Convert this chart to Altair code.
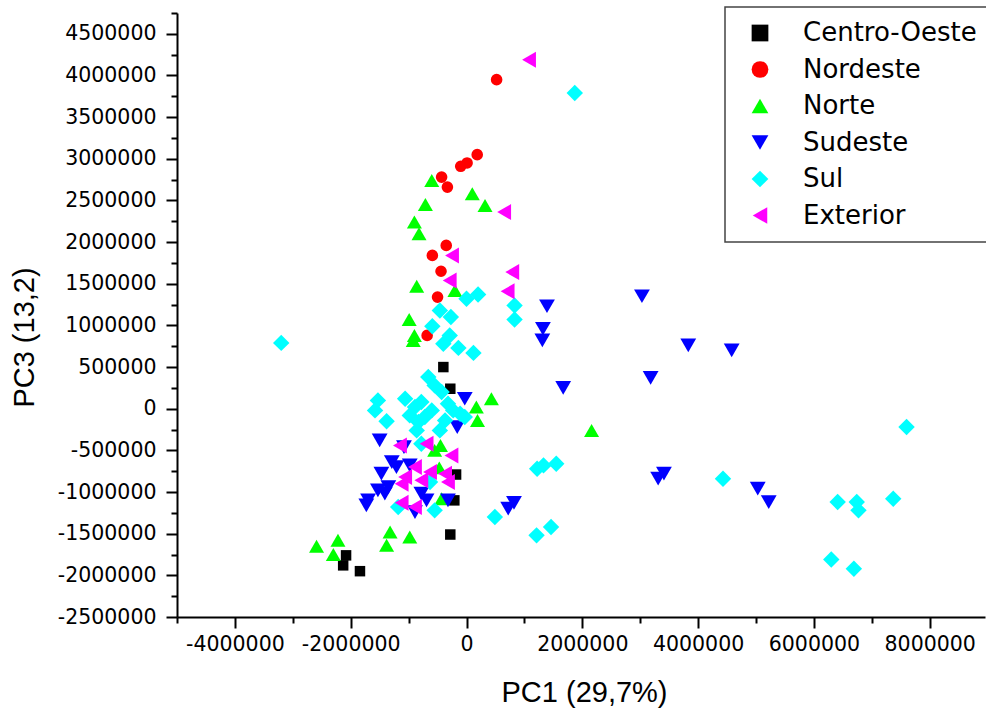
import altair as alt
import pandas as pd

regions = ["Centro-Oeste", "Nordeste", "Norte", "Sudeste", "Sul", "Exterior"]
colors = ["#000000", "#FF0000", "#00FF00", "#0000FF", "#00FFFF", "#FF00FF"]
shapes = ["square", "circle", "triangle-up", "triangle-down", "diamond", "triangle-left"]
sizes = [110, 135, 225, 250, 270, 256]

co_x = [-400000, -280000, -180000, -210000, -280000, -2080000, -2130000, -1840000]
co_y = [500000, 240000, -790000, -1100000, -1510000, -1760000, -1880000, -1950000]

ne_x = [520000, 185000, 10000, -100000, -430000, -330000, -350000, -590000, -440000, -500000, -680000]
ne_y = [3950000, 3050000, 2950000, 2910000, 2780000, 2660000, 1960000, 1840000, 1650000, 1340000, 880000]

no_x = [-600000, 100000, 320000, -710000, -900000, -820000, -860000, -200000, -990000, -900000, -920000,
        430000, 170000, 190000, -450000, -550000, -470000, -430000, -1320000, -980000, -1380000,
        -2590000, -2220000, -2300000, 2160000]
no_y = [2740000, 2580000, 2440000, 2450000, 2240000, 2100000, 1470000, 1420000, 1070000, 880000, 820000,
        120000, 20000, -140000, -440000, -500000, -710000, -1080000, -1480000, -1540000, -1640000,
        -1650000, -1580000, -1750000, -260000]

se_x = [3030000, 3830000, 4580000, 3180000, 1670000, 3310000, 3410000, 5030000, 5220000, 1390000, 1320000,
        1310000, 820000, 720000, -1500000, -30000, -160000, -1080000, -1290000, -1470000, -1210000,
        -1530000, -1350000, -1700000, -1730000, -1410000, -780000, -690000, -890000, -320000, -980000]
se_y = [1350000, 760000, 700000, 370000, 250000, -840000, -780000, -960000, -1120000, 1230000, 960000,
        820000, -1130000, -1200000, -380000, 120000, -220000, -460000, -640000, -780000, -700000,
        -980000, -940000, -1100000, -1160000, -1020000, -1020000, -1100000, -1240000, -1100000, -680000]

su_x = [1870000, -3200000, 7600000, 4430000, 6410000, 6740000, 6770000, 7370000, 6300000, 6690000,
        1550000, 1220000, 1330000, 1210000, 1460000, 490000,
        0, 200000, 830000, 830000, -460000, -270000, -590000, -290000, -400000, -140000, 120000,
        -1530000, -1580000, -1380000, -660000, -550000, -430000, -1060000, -890000, -780000, -980000,
        -830000, -860000, -720000, -600000, -320000, -230000, -110000, -30000, -370000, -460000,
        -780000, -1180000, -550000, -630000]
su_y = [3790000, 790000, -220000, -840000, -1120000, -1120000, -1220000, -1080000, -1810000, -1920000,
        -660000, -720000, -680000, -1520000, -1420000, -1300000,
        1320000, 1370000, 1240000, 1070000, 1180000, 1100000, 990000, 880000, 780000, 730000, 670000,
        100000, -20000, -150000, 380000, 280000, 200000, 120000, 20000, 80000, -80000,
        -160000, -260000, -100000, -20000, 60000, -20000, -60000, -100000, -140000, -260000,
        -420000, -1180000, -1220000, -880000]

ex_x = [1080000, 650000, -250000, -290000, 790000, 710000, -1150000, -690000, -260000, -890000, -630000,
        -1060000, -370000, -780000, -320000, -1120000, -1120000, -890000]
ex_y = [4190000, 2360000, 1840000, 1540000, 1640000, 1410000, -440000, -420000, -560000, -700000, -760000,
        -820000, -780000, -860000, -880000, -900000, -1130000, -1180000]

x_ticks = list(range(-5000000, 9000001, 1000000))
y_ticks = list(range(-2500000, 4750001, 250000))

rows = []
for name, xs, ys in zip(regions, [co_x, ne_x, no_x, se_x, su_x, ex_x], [co_y, ne_y, no_y, se_y, su_y, ex_y]):
    for xv, yv in zip(xs, ys):
        rows.append({"region": name, "PC1": xv, "PC3": yv})
df = pd.DataFrame(rows)

legend = alt.Legend(
    title=None, orient="none", legendX=548, legendY=-6, padding=13, symbolOffset=9,
    labelFont="DejaVu Sans", labelFontSize=26, labelColor="black", rowPadding=10.5,
    labelOffset=30, strokeColor="#444444", fillColor="white", symbolSize=280,
    symbolStrokeWidth=0, symbolOpacity=1, labelLimit=0,
)

base = alt.Chart(df).encode(
    x=alt.X("PC1:Q", title="PC1 (29,7%)",
            scale=alt.Scale(domain=[-5000000, 8955000], nice=False, zero=False),
            axis=alt.Axis(values=x_ticks,
                          labelExpr="datum.value % 2000000 === 0 ? '' + datum.value : ''",
                          tickSize={"condition": {"test": "datum.value % 2000000 === 0", "value": 11}, "value": 6},
                          labelPadding=6, titleX=407, titleY=75, titleBaseline="middle",
                          labelOverlap=False, labelFlush=False)),
    y=alt.Y("PC3:Q", title="PC3 (13,2)",
            scale=alt.Scale(domain=[-2500000, 4750000], nice=False, zero=False),
            axis=alt.Axis(values=y_ticks,
                          labelExpr="datum.value % 500000 === 0 ? '' + datum.value : ''",
                          tickSize={"condition": {"test": "datum.value % 500000 === 0", "value": 11}, "value": 6},
                          labelPadding=10, titleX=-153, titleY=324, titleBaseline="middle",
                          labelOverlap=False, labelFlush=False)),
    color=alt.Color("region:N", scale=alt.Scale(domain=regions, range=colors), legend=legend),
    shape=alt.Shape("region:N", scale=alt.Scale(domain=regions, range=shapes), legend=legend),
)

layers = [
    base.transform_filter(alt.datum.region == r).mark_point(filled=True, size=s, opacity=1, strokeWidth=0)
    for r, s in zip(regions, sizes)
]

chart = alt.layer(*layers).properties(
    width=808, height=604,
    padding={"left": 177, "top": 13, "right": 1, "bottom": 96},
    autosize=alt.AutoSizeParams(type="none"),
).configure_axis(
    labelFont="DejaVu Sans", labelFontSize=20.5, labelColor="black",
    titleFont="Liberation Sans", titleFontSize=29, titleFontWeight="normal", titleColor="black",
    domainColor="black", domainWidth=2, tickColor="black", tickWidth=2, grid=False,
).configure_legend(
    strokeWidth=1.5,
).configure_view(
    strokeWidth=0,
)

chart.save("out.html", embed_options={"renderer": "svg", "actions": False})
